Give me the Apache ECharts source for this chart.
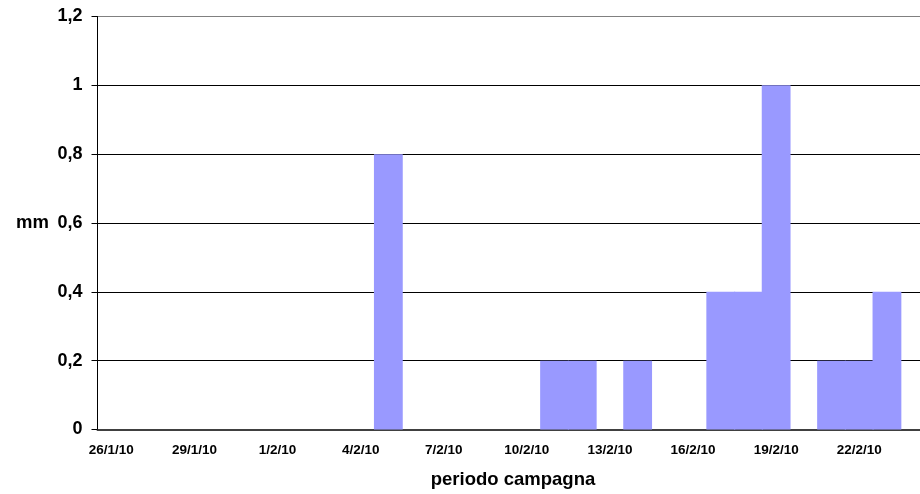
<!DOCTYPE html>
<html>
<head>
<meta charset="utf-8">
<script src="https://cdn.jsdelivr.net/npm/echarts@6/dist/echarts.min.js"></script>
<style>
  html, body { margin: 0; padding: 0; background: #fff; overflow: hidden; }
  #wrap { width: 920px; height: 494px; overflow: hidden; }
  #chart { width: 940px; height: 494px; }
</style>
</head>
<body>
<div id="wrap"><div id="chart"></div></div>
<script>
const days = [
  '26/1/10', '27/1/10', '28/1/10', '29/1/10', '30/1/10', '31/1/10',
  '1/2/10', '2/2/10', '3/2/10', '4/2/10', '5/2/10', '6/2/10', '7/2/10',
  '8/2/10', '9/2/10', '10/2/10', '11/2/10', '12/2/10', '13/2/10', '14/2/10',
  '15/2/10', '16/2/10', '17/2/10', '18/2/10', '19/2/10', '20/2/10',
  '21/2/10', '22/2/10', '23/2/10', '24/2/10'
]
const rainMm = [
  0, 0, 0, 0, 0, 0,
  0, 0, 0, 0, 0.8, 0, 0,
  0, 0, 0, 0.2, 0.2, 0, 0.2,
  0, 0, 0.4, 0.4, 1, 0,
  0.2, 0.2, 0.4, 0
]

const font = '"Liberation Sans", Arial, sans-serif'
const chart = echarts.init(document.getElementById('chart'))

chart.setOption({
  animation: false,
  grid: { left: 97.5, top: 16.5, width: 831, height: 413.5, containLabel: false },
  xAxis: {
    type: 'category',
    data: days,
    name: 'periodo campagna',
    nameLocation: 'middle',
    nameGap: 50,
    nameTextStyle: { fontFamily: font, fontWeight: 'bold', fontSize: 18.5, color: '#000', verticalAlign: 'middle' },
    axisLine: { lineStyle: { color: '#404040', width: 2 } },
    axisTick: { show: false },
    axisLabel: {
      interval: 2,
      margin: 14,
      fontFamily: font,
      fontWeight: 'bold',
      fontSize: 13.5,
      color: '#000'
    }
  },
  yAxis: {
    type: 'value',
    min: 0,
    max: 1.2,
    interval: 0.2,
    name: 'mm',
    nameLocation: 'middle',
    nameRotate: 0,
    nameGap: 48.5,
    nameTextStyle: { fontFamily: font, fontWeight: 'bold', fontSize: 18.5, color: '#000', align: 'right' },
    axisLine: { show: true, lineStyle: { color: '#000', width: 1 } },
    axisTick: { show: true, length: 6, lineStyle: { color: '#000' } },
    axisLabel: {
      margin: 15,
      fontFamily: font,
      fontWeight: 'bold',
      fontSize: 18,
      color: '#000',
      formatter: v => String(Math.round(v * 10) / 10).replace('.', ',')
    },
    splitLine: {
      lineStyle: { color: ['#000', '#000', '#000', '#000', '#000', '#000', '#808080'], width: 1 }
    }
  },
  series: [{
    type: 'bar',
    data: rainMm,
    barWidth: '104%',
    barCategoryGap: 0,
    itemStyle: { color: '#9999FF' }
  }]
})
</script>
</body>
</html>
